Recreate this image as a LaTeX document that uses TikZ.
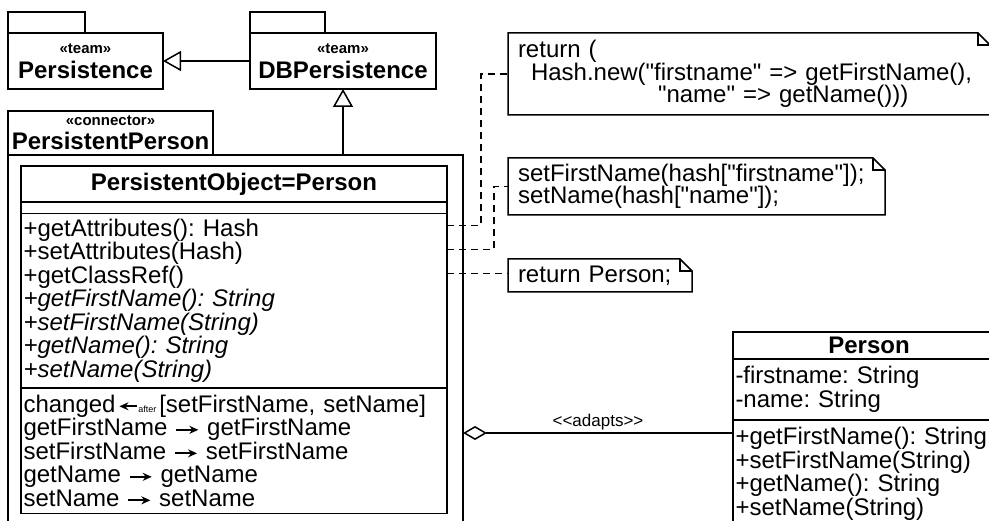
\documentclass[tikz,border=0pt]{standalone}
\usepackage{fontspec}
\setmainfont{Liberation Sans}[Ligatures=TeXOff]
\usetikzlibrary{arrows.meta,positioning}
\frenchspacing

\newcommand\stereotxt[1]{{\fontsize{15}{15}\selectfont «#1»}}
\newcommand\callto{\tikz[baseline=-6pt]\draw[-{Stealth[length=9pt,width=8pt]},line width=1.7pt] (0pt,0pt) -- (22pt,0pt);}
\newcommand\callafter{\tikz[baseline=-6pt]\draw[{Stealth[length=9pt,width=8pt]}-,line width=1.7pt] (0pt,0pt) -- (18pt,0pt);{\fontsize{9}{9}\selectfont after}}

\begin{document}
\begin{tikzpicture}[x=1pt,y=1pt]
\tikzstyle{every path}=[line width=1.5pt]
\tikzstyle{umlbox}=[draw,outer sep=0pt,inner sep=0pt]
\tikzstyle{pkgtab}=[umlbox,minimum height=21pt,anchor=south west]
\tikzstyle{pkgbody}=[umlbox,minimum height=56pt,anchor=north west,align=center,font=\bfseries\fontsize{24}{25}\selectfont]
\tikzstyle{compartment}=[umlbox,anchor=north,align=left,inner xsep=2.5pt,font=\fontsize{24}{23.5}\selectfont]
\tikzstyle{title}=[compartment,align=center,font=\bfseries\fontsize{24}{24}\selectfont]
\tikzstyle{note}=[outer sep=0pt,inner xsep=10pt,inner ysep=0pt,anchor=north west,align=left,font=\fontsize{24}{22.5}\selectfont]
\tikzstyle{dep}=[line width=1.2pt,dash pattern=on 7pt off 5pt]
\tikzstyle{gen}=[-{Triangle[open,length=18pt,width=20pt]}]

\useasboundingbox (0,0) rectangle (989,-521);

% teams
\node[pkgbody,minimum width=155pt] (persistence) at (8,-33) {\stereotxt{team}\\Persistence};
\node[pkgtab,minimum width=77pt] (persistencetab) at (persistence.north west) {};
\node[pkgbody,minimum width=186pt] (dbpersistence) at (250,-33) {\stereotxt{team}\\DBPersistence};
\node[pkgtab,minimum width=75pt] (dbpersistencetab) at (dbpersistence.north west) {};

% connector
\node[umlbox,anchor=north west,minimum width=455pt,minimum height=380pt] (connector) at (8,-155) {};
\node[umlbox,anchor=south west,minimum width=205pt,minimum height=44pt,align=center,
      font=\bfseries\fontsize{24}{24}\selectfont] (connectortab) at (connector.north west) {\stereotxt{connector}\\PersistentPerson};

% role class
\node[title,minimum width=426pt,minimum height=36pt] (pobjname) at (234,-166) {PersistentObject=Person};
\node[compartment,minimum width=426pt,minimum height=11.5pt,below=0pt of pobjname] (pobjattr) {};
\node[compartment,text width=421pt,minimum height=174.5pt,below=0pt of pobjattr] (pobjops) {+getAttributes(): Hash\\
+setAttributes(Hash)\\
+getClassRef()\\
\textit{+getFirstName(): String}\\
\textit{+setFirstName(String)}\\
\textit{+getName(): String}\\
\textit{+setName(String)}};
\node[compartment,text width=421pt,minimum height=125.5pt,below=0pt of pobjops] (pobjcallin) {changed\hspace{3pt}\callafter\hspace{3pt}[setFirstName, setName]\\
getFirstName \callto{} getFirstName\\
setFirstName \callto{} setFirstName\\
getName \callto{} getName\\
setName \callto{} setName};

% base class
\node[title,anchor=north west,minimum width=272pt,minimum height=27pt] (personname) at (733,-332) {Person};
\node[compartment,text width=267pt,minimum height=61pt,below=0pt of personname] (personattr) {-firstname: String\\
-name: String};
\node[compartment,text width=267pt,minimum height=108pt,below=0pt of personattr] (personops) {+getFirstName(): String\\
+setFirstName(String)\\
+getName(): String\\
+setName(String)};

% notes
\node[note,text width=462pt,minimum height=82pt] (hashnote) at (508,-33) {return (\\
\hspace*{13pt}Hash.new("firstname" => getFirstName(),\\
\hspace*{140pt}"name" => getName()))};
\node[note,text width=357pt,minimum height=57pt] (setnote) at (508,-158) {setFirstName(hash["firstname"]);\\
setName(hash["name"]);};
\node[note,text width=164pt,minimum height=33pt] (retnote) at (508,-259) {return Person;};

\foreach \n in {hashnote,setnote,retnote}{
  \draw (\n.north west) -- ([xshift=-12pt]\n.north east) -- ([yshift=-12pt]\n.north east) -- (\n.south east) -- (\n.south west) -- cycle;
  \draw ([xshift=-12pt]\n.north east) |- ([yshift=-12pt]\n.north east);
}

\coordinate (getattr) at ([yshift=-12pt]pobjops.north east);
\coordinate (setattr) at ([yshift=-36pt]pobjops.north east);
\coordinate (getref) at ([yshift=-60pt]pobjops.north east);
\coordinate (adaptend) at ([yshift=-13pt]personops.north west);

\draw[dep] (getattr) -- ++(34,0) |- (hashnote.west);
\draw[dep] (setattr) -- ++(47,0) |- (setnote.west);
\draw[dep] (getref) -- (getref -| retnote.west);

\draw[gen] (dbpersistence.west) -- (persistence.east);
\draw[gen] (dbpersistence.south |- connector.north) -- (dbpersistence.south);

\draw[{Diamond[open,length=24pt,width=14pt]}-] (connector.east |- adaptend) -- node[above,inner sep=2pt,font=\fontsize{17}{17}\selectfont] {<<adapts>>} (adaptend);
\end{tikzpicture}
\end{document}
